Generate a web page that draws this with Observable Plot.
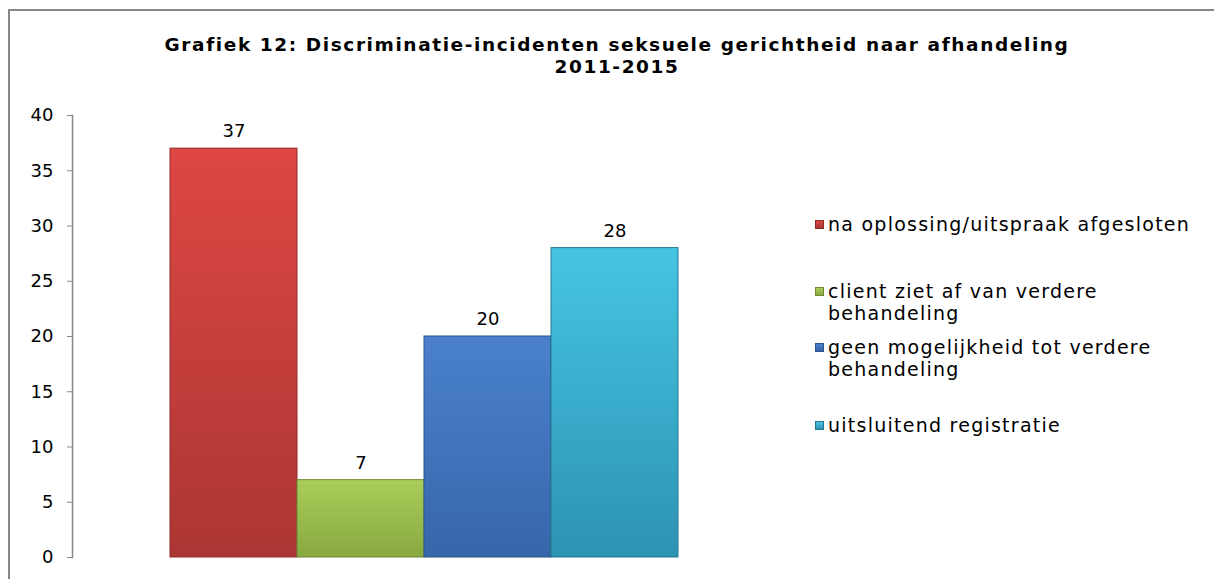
<!DOCTYPE html>
<html>
<head>
<meta charset="utf-8">
<script src="https://cdn.jsdelivr.net/npm/d3@7"></script>
<script src="https://cdn.jsdelivr.net/npm/@observablehq/plot@0.6"></script>
<style>
  html, body { margin: 0; padding: 0; background: #fff; }
  body { width: 1214px; height: 579px; overflow: hidden; font-family: "DejaVu Sans", Verdana, sans-serif; }
  #wrap { position: relative; width: 1214px; height: 579px; }
  #border { position: absolute; left: 8px; top: 9px; width: 1230px; height: 620px; border-left: 2px solid #878787; border-top: 2px solid #878787; box-sizing: border-box; }
  #title { position: relative; height: 90px; box-sizing: border-box; padding-top: 34px; text-align: center; font-weight: bold; font-size: 18.5px; letter-spacing: 1.6px; line-height: 22px; color: #000; padding-left: 20px; white-space: nowrap; }
  #legend { position: absolute; left: 815px; top: 213px; font-size: 19px; letter-spacing: 1.25px; color: #000; line-height: 22px; white-space: nowrap; }
  .item { position: relative; padding-left: 13px; }
  .sw { position: absolute; left: 0; top: 7px; width: 9px; height: 9px; box-sizing: border-box; }
</style>
</head>
<body>
<div id="wrap">
  <div id="border"></div>
  <div id="title">Grafiek 12: Discriminatie-incidenten seksuele gerichtheid naar afhandeling<br>2011-2015</div>
  <div id="chart"></div>
  <div id="legend"></div>
</div>
<script>
const categories = [
  "na oplossing/uitspraak afgesloten",
  "client ziet af van verdere behandeling",
  "geen mogelijkheid tot verdere behandeling",
  "uitsluitend registratie"
];
const legendLines = [
  ["na oplossing/uitspraak afgesloten"],
  ["client ziet af van verdere", "behandeling"],
  ["geen mogelijkheid tot verdere", "behandeling"],
  ["uitsluitend registratie"]
];
const values = [37, 7, 20, 28];
const topColors = ["#de4744", "#aacd5a", "#4a80cd", "#46c4e4"];
const bottomColors = ["#ab3633", "#89a940", "#3767aa", "#2d93b2"];
const edgeColors = ["#8e2c2a", "#6f8a33", "#2c548c", "#25788f"];
const yTicks = [0, 5, 10, 15, 20, 25, 30, 35, 40];

const data = categories.map((c, i) => ({cat: c, value: values[i], i}));

const plot = Plot.plot({
  width: 1214,
  height: 489,
  marginTop: 25,
  marginBottom: 22,
  marginLeft: 72,
  marginRight: 0,
  style: {fontFamily: "DejaVu Sans, Verdana, sans-serif", fontSize: "18px", color: "#000", background: "transparent"},
  x: {domain: categories, range: [168, 679], padding: 0, axis: null},
  y: {domain: [0, 40], ticks: yTicks},
  marks: [
    Plot.axisY({ticks: yTicks, tickSize: 5, tickPadding: 14, stroke: "#888", fill: "#000", fontSize: 18, label: null}),
    Plot.frame({anchor: "left", stroke: "#888", strokeWidth: 1.5}),
    Plot.barY(data, {x: "cat", y: "value", fill: d => `url(#grad${d.i})`, stroke: d => edgeColors[d.i], strokeWidth: 1, inset: 0}),
    Plot.text(data, {x: "cat", y: "value", text: d => String(d.value), dy: -17, fontSize: 18, fill: "#000"})
  ]
});

// gradients
const svg = d3.select(plot);
const defs = svg.insert("defs", ":first-child");
topColors.forEach((c, i) => {
  const g = defs.append("linearGradient").attr("id", "grad" + i).attr("x1", 0).attr("y1", 0).attr("x2", 0).attr("y2", 1);
  g.append("stop").attr("offset", "0%").attr("stop-color", c);
  g.append("stop").attr("offset", "100%").attr("stop-color", bottomColors[i]);
});
document.getElementById("chart").appendChild(plot);

// legend
const legend = d3.select("#legend");
const gaps = [45, 12, 34, 0];
legendLines.forEach((lines, i) => {
  const it = legend.append("div").attr("class", "item").style("margin-bottom", gaps[i] + "px");
  it.append("div").attr("class", "sw")
    .style("background", `linear-gradient(${topColors[i]}, ${bottomColors[i]})`)
    .style("border", `1px solid ${edgeColors[i]}`);
  it.append("div").html(lines.join("<br>"));
});
</script>
</body>
</html>
